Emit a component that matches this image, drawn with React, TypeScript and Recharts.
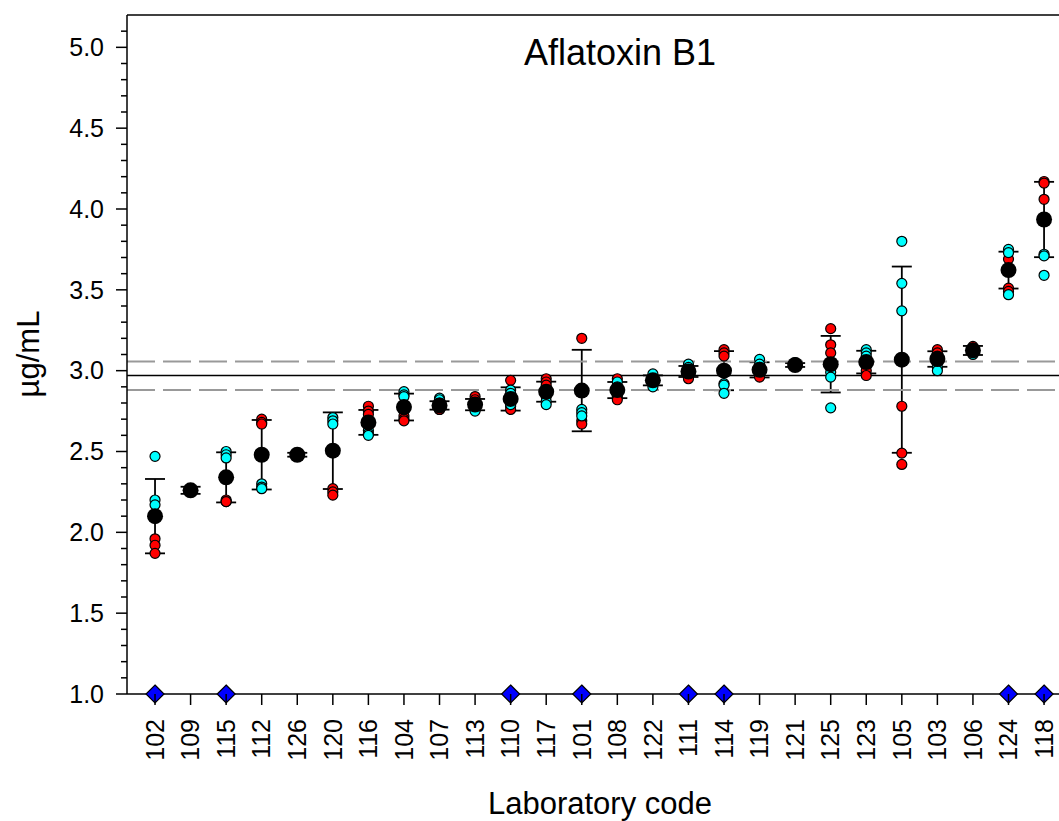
import React from "react";
import { ScatterChart, Scatter, XAxis, YAxis, ReferenceLine, ErrorBar } from "recharts";

// ---------- data ----------
const LABS = ["102","109","115","112","126","120","116","104","107","113","110","117","101","108","122","111","114","119","121","125","123","105","103","106","124","118"];
const MEANS = [2.10,2.26,2.34,2.48,2.48,2.505,2.68,2.775,2.785,2.79,2.825,2.87,2.877,2.88,2.94,2.995,3.00,3.005,3.035,3.04,3.053,3.068,3.072,3.125,3.622,3.935];
const SDS = [0.23,0.022,0.155,0.215,0.012,0.237,0.077,0.083,0.026,0.035,0.072,0.062,0.252,0.05,0.031,0.034,0.121,0.047,0.012,0.175,0.07,0.576,0.048,0.028,0.114,0.233];
const RED_POINTS: number[][] = [
  [1.96,1.92,1.87],[2.26,2.25],[2.20,2.19,2.19],[2.70,2.68,2.67],[2.48,2.49],
  [2.27,2.25,2.23],[2.78,2.75,2.73],[2.72,2.70,2.69],[2.77,2.76,2.76],[2.84,2.82,2.80],
  [2.94,2.78,2.76],[2.95,2.93,2.91],[3.20,2.69,2.67],[2.95,2.84,2.82],[2.94,2.93,2.92],
  [2.98,2.96,2.95],[3.13,3.11,3.09],[2.99,2.97,2.96],[3.04,3.03],[3.26,3.16,3.11],
  [3.03,3.00,2.97],[2.78,2.49,2.42],[3.13,3.11,3.09],[3.15,3.13,3.11],[3.69,3.51,3.49],[4.17,4.16,4.06],
];
const CYAN_POINTS: number[][] = [
  [2.47,2.20,2.17],[2.27,2.26],[2.50,2.48,2.46],[2.30,2.28,2.27],[2.47,2.48],
  [2.71,2.69,2.67],[2.63,2.61,2.60],[2.87,2.85,2.84],[2.83,2.82,2.80],[2.78,2.76,2.75],
  [2.88,2.86,2.79],[2.84,2.81,2.79],[2.76,2.74,2.72],[2.93,2.90,2.87],[2.98,2.95,2.90],
  [3.04,3.02,3.00],[2.92,2.91,2.86],[3.07,3.04,3.02],[3.05,3.04],[2.99,2.96,2.77],
  [3.13,3.11,3.09],[3.80,3.54,3.37],[3.05,3.02,3.00],[3.14,3.12,3.10],[3.75,3.73,3.47],[3.72,3.71,3.59],
];
const FLAGGED_LABS = ["102","115","110","101","111","114","124","118"];
const FLAG_LEVEL = 1.0;
const ASSIGNED = 2.97;
const UPPER = 3.057;
const LOWER = 2.88;
const Y_TICKS = [1.0,1.1,1.2,1.3,1.4,1.5,1.6,1.7,1.8,1.9,2.0,2.1,2.2,2.3,2.4,2.5,2.6,2.7,2.8,2.9,3.0,3.1,3.2,3.3,3.4,3.5,3.6,3.7,3.8,3.9,4.0,4.1,4.2,4.3,4.4,4.5,4.6,4.7,4.8,4.9,5.0,5.1];
const X_TICKS = LABS.map((_, i) => i + 1);
const Y_DOMAIN: [number, number] = [1.0, 5.2];
const X_DOMAIN: [number, number] = [0.212, 26.42];

// ---------- derived ----------
const redData = RED_POINTS.flatMap((vals, i) => vals.map((v) => ({ x: i + 1, y: v })));
const cyanData = CYAN_POINTS.flatMap((vals, i) => vals.map((v) => ({ x: i + 1, y: v })));
const meanData = MEANS.map((m, i) => ({ x: i + 1, y: m, err: SDS[i] }));
const flagData = FLAGGED_LABS.map((l) => ({ x: LABS.indexOf(l) + 1, y: FLAG_LEVEL }));

// ---------- layout ----------
const W = 1059;
const H = 821;
const PLOT_LEFT = 127;
const PLOT_TOP = 15;
const PLOT_BOTTOM = 694;
const FONT = "'Liberation Sans', Arial, Helvetica, sans-serif";

const YTick = (props: any) => {
  const { y, payload } = props;
  const v = payload.value as number;
  const major = Math.abs(v * 2 - Math.round(v * 2)) < 1e-6;
  const len = major ? 11 : 6;
  return (
    <g>
      <line x1={PLOT_LEFT - len} x2={PLOT_LEFT} y1={y} y2={y} stroke="#000" strokeWidth={1.5} />
      {major && (
        <text x={104} y={y} dy="0.35em" textAnchor="end" fontSize={25} fontFamily={FONT} fill="#000">
          {v.toFixed(1)}
        </text>
      )}
    </g>
  );
};

const XTick = (props: any) => {
  const { x, payload } = props;
  const label = LABS[Math.round(payload.value) - 1];
  return (
    <g>
      <line x1={x} x2={x} y1={PLOT_BOTTOM} y2={PLOT_BOTTOM + 11} stroke="#000" strokeWidth={1.5} />
      <text
        transform={`translate(${x},${PLOT_BOTTOM + 25}) rotate(-90)`}
        dy="0.35em"
        textAnchor="end"
        fontSize={25}
        fontFamily={FONT}
        fill="#000"
      >
        {label}
      </text>
    </g>
  );
};

const dot = (fill: string, r: number) => (p: any) =>
  p.cx == null ? <g /> : <circle cx={p.cx} cy={p.cy} r={r} fill={fill} stroke="#000" strokeWidth={1.2} />;

const meanDot = (p: any) => (p.cx == null ? <g /> : <circle cx={p.cx} cy={p.cy} r={8} fill="#000" />);

const diamond = (p: any) => {
  if (p.cx == null) return <g />;
  const s = 9;
  const { cx, cy } = p;
  return (
    <polygon
      points={`${cx},${cy - s} ${cx + s},${cy} ${cx},${cy + s} ${cx - s},${cy}`}
      fill="#0000FF"
      stroke="#000"
      strokeWidth={1.2}
    />
  );
};

export default function App() {
  return (
    <div style={{ position: "absolute", left: 0, top: 0, width: W, height: H, overflow: "hidden", background: "#fff" }}>
      <ScatterChart width={W} height={H} margin={{ top: PLOT_TOP, right: 0, bottom: 0, left: 0 }}>
        <XAxis
          type="number"
          dataKey="x"
          domain={X_DOMAIN}
          ticks={X_TICKS}
          interval={0}
          height={H - PLOT_BOTTOM}
          tickLine={false}
          axisLine={{ stroke: "#000", strokeWidth: 1.5 }}
          tick={(p: any) => <XTick {...p} />}
        />
        <YAxis
          type="number"
          dataKey="y"
          domain={Y_DOMAIN}
          ticks={Y_TICKS}
          interval={0}
          width={PLOT_LEFT}
          tickLine={false}
          axisLine={{ stroke: "#000", strokeWidth: 1.5 }}
          tick={(p: any) => <YTick {...p} />}
        />
        <Scatter data={redData} shape={dot("#FF0000", 5)} isAnimationActive={false} />
        <Scatter data={cyanData} shape={dot("#00FFFF", 5)} isAnimationActive={false} />
        <Scatter data={meanData} shape={meanDot} isAnimationActive={false}>
          <ErrorBar dataKey="err" direction="y" width={10} stroke="#000" strokeWidth={1.8} isAnimationActive={false} />
        </Scatter>
        <ReferenceLine y={ASSIGNED} stroke="#000" strokeWidth={1.5} ifOverflow="visible" />
        <ReferenceLine y={UPPER} stroke="#999" strokeWidth={2} strokeDasharray="28 8" ifOverflow="visible" />
        <ReferenceLine y={LOWER} stroke="#999" strokeWidth={2} strokeDasharray="28 8" ifOverflow="visible" />
        <ReferenceLine y={Y_DOMAIN[1]} stroke="#000" strokeWidth={1.5} ifOverflow="visible" />
        <Scatter data={flagData} shape={diamond} isAnimationActive={false} />
      </ScatterChart>
      <svg width={W} height={H} style={{ position: "absolute", left: 0, top: 0, pointerEvents: "none" }}>
        <text x={620} y={65} textAnchor="middle" fontSize={36} fontFamily={FONT} fill="#000">
          Aflatoxin B1
        </text>
        <text x={600} y={814} textAnchor="middle" fontSize={31} fontFamily={FONT} fill="#000">
          Laboratory code
        </text>
        <text
          transform={`translate(39,354) rotate(-90)`}
          textAnchor="middle"
          fontSize={31}
          fontFamily={FONT}
          fill="#000"
        >
          µg/mL
        </text>
      </svg>
    </div>
  );
}
